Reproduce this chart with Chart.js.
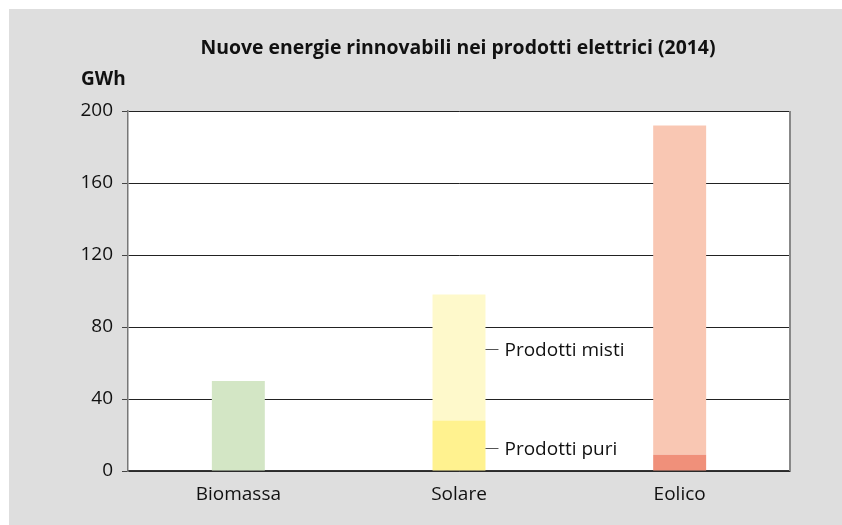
<!DOCTYPE html>
<html><head><meta charset="utf-8">
<script src="https://cdn.jsdelivr.net/npm/chart.js@4.4.1/dist/chart.umd.min.js"></script>
<style>html,body{margin:0;padding:0;background:#fff;}#wrap{position:absolute;left:0;top:0;width:842px;height:525px;}</style>
</head><body><div id="wrap"><canvas id="c" width="842" height="525"></canvas></div>
<script>
const categories = ['Biomassa', 'Solare', 'Eolico'];
const prodottiPuri = [0, 28, 9];
const prodottiMisti = [50, 70, 183];
const yTicks = [0, 40, 80, 120, 160, 200];
const titleText = 'Nuove energie rinnovabili nei prodotti elettrici (2014)';
const unitText = 'GWh';
const seriesLabels = ['Prodotti puri', 'Prodotti misti'];

const FONT = "'Open Sans', sans-serif";
const puriColors = ['#d3e6c5', '#fff28f', '#f0907a'];
const mistiColors = ['#d3e6c5', '#fef9cb', '#f9c7b3'];

const bgPlugin = {
  id: 'bg',
  beforeDraw(chart) {
    const ctx = chart.ctx, a = chart.chartArea;
    ctx.save();
    ctx.fillStyle = '#dedede';
    ctx.fillRect(9, 9, chart.width - 9, chart.height - 9);
    ctx.fillStyle = '#ffffff';
    ctx.fillRect(a.left, a.top, a.right - a.left, a.bottom - a.top);
    ctx.restore();
  },
  afterDraw(chart) {
    const ctx = chart.ctx, a = chart.chartArea;
    const y = chart.scales.y;
    ctx.save();
    ctx.fillStyle = '#111';
    ctx.font = "bold 19.4px " + FONT;
    ctx.textBaseline = 'middle';
    ctx.textAlign = 'center';
    ctx.fillText(titleText, 458, 48);
    ctx.textAlign = 'left';
    ctx.font = "bold 19px " + FONT;
    ctx.fillText(unitText, 81, 80);
    ctx.strokeStyle = '#888';
    ctx.lineWidth = 2;
    ctx.beginPath();
    ctx.moveTo(a.right, a.top); ctx.lineTo(a.right, a.bottom);
    ctx.stroke();
    const bar = chart.getDatasetMeta(1).data[1];
    const xr = bar.x + bar.width / 2;
    const anns = [[seriesLabels[1], 68], [seriesLabels[0], 13]];
    ctx.font = "19px " + FONT;
    ctx.strokeStyle = '#555';
    ctx.lineWidth = 1;
    anns.forEach(([t, v]) => {
      const yy = Math.round(y.getPixelForValue(v)) + 0.5;
      ctx.beginPath(); ctx.moveTo(xr, yy); ctx.lineTo(xr + 13, yy); ctx.stroke();
      ctx.fillStyle = '#111';
      ctx.textAlign = 'left';
      ctx.fillText(t, xr + 19, yy + 1);
    });
    ctx.restore();
  }
};

new Chart(document.getElementById('c'), {
  type: 'bar',
  data: {
    labels: categories,
    datasets: [
      { label: seriesLabels[0], data: prodottiPuri, backgroundColor: puriColors, barPercentage: 0.24, categoryPercentage: 1 },
      { label: seriesLabels[1], data: prodottiMisti, backgroundColor: mistiColors, barPercentage: 0.24, categoryPercentage: 1 }
    ]
  },
  options: {
    responsive: false,
    animation: false,
    devicePixelRatio: 1,
    layout: { padding: { top: 111, right: 52, left: 0, bottom: 0 } },
    plugins: { legend: { display: false }, title: { display: false }, tooltip: { enabled: false } },
    scales: {
      x: {
        stacked: true,
        grid: { display: false, drawTicks: false },
        border: { color: '#333', width: 1.5 },
        ticks: { color: '#111', font: { family: FONT, size: 19 }, padding: 12 },
        afterFit(s) { s.height = 54; }
      },
      y: {
        stacked: true,
        min: 0, max: 200,
        afterBuildTicks(s) { s.ticks = yTicks.map(v => ({ value: v })); },
        grid: { color: '#222', lineWidth: 1, tickLength: 6, tickColor: '#444' },
        border: { color: '#777', width: 1.5 },
        ticks: { color: '#111', font: { family: FONT, size: 19 }, padding: 9 },
        afterFit(s) { s.width = 128; }
      }
    }
  },
  plugins: [bgPlugin]
});
</script></body></html>
